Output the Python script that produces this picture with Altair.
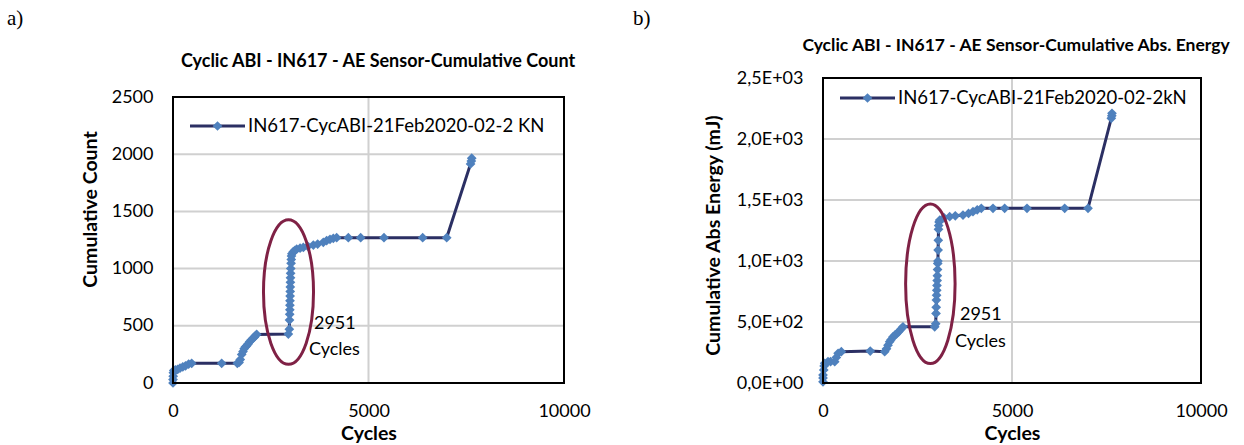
import altair as alt
import pandas as pd

# ---------------- data ----------------
count_cycles = [0, 0, 5, 10, 20, 60, 120, 180, 250, 320, 400, 478, 1245, 1645, 1690, 1720, 1757,
                1790, 1820, 1850, 1885, 1920, 1960, 2000, 2040, 2080, 2110, 2140, 2950, 2975, 2980,
                2985, 2988, 2990, 2992, 2995, 2998, 3000, 3003, 3005, 3008, 3012, 3020, 3025, 3030,
                3040, 3077, 3120, 3164, 3250, 3333, 3450, 3589, 3700, 3844, 3930, 4015, 4100, 4186,
                4484, 4800, 5396, 6386, 7000, 7610, 7630, 7640]
count_values = [0, 30, 60, 90, 110, 115, 120, 131, 140, 150, 165, 172, 172, 172, 180, 205, 250,
                275, 300, 315, 325, 340, 360, 375, 390, 400, 415, 425, 428, 470, 550,
                600, 640, 680, 720, 760, 800, 840, 880, 920, 959, 1000, 1046, 1080, 1110,
                1130, 1148, 1160, 1170, 1178, 1185, 1195, 1206, 1215, 1230, 1245, 1256, 1265, 1270,
                1270, 1270, 1270, 1270, 1270, 1915, 1940, 1965]

energy_cycles = [0, 0, 0, 20, 30, 45, 132, 200, 310, 352, 400, 485, 1250, 1632, 1680, 1720, 1764,
                 1800, 1850, 1900, 1940, 2000, 2060, 2116, 2955, 2981, 2990, 2995, 3000, 3005, 3010,
                 3015, 3020, 3025, 3030, 3035, 3040, 3045, 3050, 3055, 3060, 3070, 3090, 3200, 3351,
                 3500, 3704, 3850, 3968, 4080, 4188, 4497, 4806, 5397, 6394, 7011, 7627, 7640, 7645]
energy_values = [10, 40, 66, 107, 140, 161, 175, 175, 175, 210, 243, 257, 262, 257, 280, 310, 339,
                 355, 378, 392, 400, 420, 440, 461, 461, 485, 570, 620, 680, 720, 760,
                 800, 840, 880, 930, 980, 1000, 1090, 1170, 1260, 1290, 1320, 1336, 1355, 1363,
                 1370, 1377, 1390, 1404, 1420, 1432, 1432, 1432, 1432, 1432, 1432, 2170, 2190, 2211]

x_ticks = [0, 5000, 10000]
count_ticks = [0, 500, 1000, 1500, 2000, 2500]
energy_ticks = [0, 500, 1000, 1500, 2000, 2500]
energy_tick_labels = ["0,0E+00", "5,0E+02", "1,0E+03", "1,5E+03", "2,0E+03", "2,5E+03"]

count_title = "Cyclic ABI - IN617 - AE Sensor-Cumulative Count"
energy_title = "Cyclic ABI - IN617 - AE Sensor-Cumulative Abs. Energy"
count_legend = "IN617-CycABI-21Feb2020-02-2 KN"
energy_legend = "IN617-CycABI-21Feb2020-02-2kN"
count_ytitle = "Cumulative Count"
energy_ytitle = "Cumulative Abs Energy  (mJ)"

# annotation (ellipse centre + text anchors, in data units)
count_ellipse = {"cycles": [2954], "value": [795]}
energy_ellipse = {"cycles": [2840], "value": [813]}
count_notes = {"cycles": [3606, 3478], "value": [516, 288], "text": ["2951", "Cycles"]}
energy_notes = {"cycles": [3624, 3492], "value": [557, 336], "text": ["2951", "Cycles"]}

FONT = "Lato"
LINE = "#2B2F63"
MARK = "#4F81BD"
ELL = "#7F2145"
GRID = "#D0D0D0"
H = 305  # common panel height (plot bottoms aligned)


def ellipse_path(a):
    k = 0.5523
    return (f"M 0 -1 C {k*a:.4f} -1 {a:.4f} {-k:.4f} {a:.4f} 0 "
            f"C {a:.4f} {k:.4f} {k*a:.4f} 1 0 1 "
            f"C {-k*a:.4f} 1 {-a:.4f} {k:.4f} {-a:.4f} 0 "
            f"C {-a:.4f} {-k:.4f} {-k*a:.4f} -1 0 -1 Z")


def panel(cycles, values, yticks, ylabels, title, legend, ytitle, ell, notes, ell_shape,
          w, top, ytitle_x, ytitle_y, tag, tag_x, leg_y, title_y, title_x, title_size):
    df = pd.DataFrame({"cycles": cycles, "value": values, "i": list(range(len(cycles)))})
    if ylabels is None:
        label_expr = "format(datum.value, 'd')"
    else:
        parts = [f"datum.value == {v} ? '{l}'" for v, l in zip(yticks, ylabels)]
        label_expr = " : ".join(parts) + " : ''"
    xs = alt.Scale(domain=[0, 10000], nice=False)
    ys = alt.Scale(domain=[0, 2500], nice=False, range=[H, top])
    xaxis = alt.Axis(values=x_ticks, title="Cycles", format="d", grid=False,
                     domain=False, ticks=False, tickSize=0, labelPadding=19,
                     labelFlush=False, labelFont=FONT, labelFontSize=18,
                     labelColor="black", titleFont=FONT, titleFontSize=19.5,
                     titleFontWeight="bold", titleColor="black", titleBaseline="middle",
                     titleY=50)
    yaxis = alt.Axis(values=yticks, title=ytitle, labelExpr=label_expr, grid=False,
                     domain=False, ticks=False, tickSize=0,
                     labelPadding=20, labelFlush=False, labelFont=FONT, labelFontSize=18,
                     labelColor="black", titleFont=FONT, titleFontSize=19.5,
                     titleFontWeight="bold", titleColor="black", titleBaseline="middle",
                     titleAlign="center", titleX=ytitle_x, titleY=ytitle_y)
    x = alt.X("cycles:Q", scale=xs, axis=xaxis)
    y = alt.Y("value:Q", scale=ys, axis=yaxis)
    # grid lines drawn from the tick lists through the same scales
    hgrid = alt.Chart(pd.DataFrame({"value": yticks[1:-1]})).mark_rule(
        color=GRID, strokeWidth=2).encode(y=y, x=alt.value(0), x2=alt.value(w))
    vgrid = alt.Chart(pd.DataFrame({"cycles": x_ticks[1:-1]})).mark_rule(
        color=GRID, strokeWidth=2).encode(x=x, y=alt.value(top), y2=alt.value(H))
    line = alt.Chart(df).mark_line(color=LINE, strokeWidth=3).encode(x=x, y=y, order="i:Q")
    pts = alt.Chart(df).mark_point(shape="diamond", filled=True, color=MARK, size=95,
                                   opacity=1).encode(x=x, y=y)
    edf = pd.DataFrame(ell)
    ellipse = alt.Chart(edf).mark_point(shape=ell_shape[0], size=ell_shape[1], filled=False,
                                        stroke=ELL, strokeWidth=3, opacity=1).encode(x=x, y=y)
    ndf = pd.DataFrame(notes)
    note = alt.Chart(ndf).mark_text(font=FONT, fontSize=18, align="left", baseline="middle",
                                    color="black").encode(x=x, y=y, text="text:N")
    ldf = pd.DataFrame({"label": [legend], "tag": [tag], "title": [title]})
    frame = alt.Chart(ldf).mark_rect(filled=False, stroke="black", strokeWidth=2).encode(
        x=alt.value(0), x2=alt.value(w), y=alt.value(top), y2=alt.value(H))
    leg_rule = alt.Chart(ldf).mark_rule(color=LINE, strokeWidth=3).encode(
        x=alt.value(17), x2=alt.value(72), y=alt.value(leg_y))
    leg_pt = alt.Chart(ldf).mark_point(shape="diamond", filled=True, color=MARK, size=95,
                                       opacity=1).encode(x=alt.value(44.5), y=alt.value(leg_y))
    leg_txt = alt.Chart(ldf).mark_text(font=FONT, fontSize=18.5, align="left", baseline="middle",
                                       color="black").encode(x=alt.value(75), y=alt.value(leg_y),
                                                             text="label:N")
    tag_txt = alt.Chart(ldf).mark_text(font="Liberation Serif", fontSize=21, align="left",
                                       baseline="top", color="black").encode(
        x=alt.value(tag_x), y=alt.value(-70), text="tag:N")
    title_txt = alt.Chart(ldf).mark_text(font=FONT, fontSize=title_size, fontWeight="bold",
                                         align="center", baseline="middle", color="black").encode(
        x=alt.value(title_x), y=alt.value(title_y), text="title:N")
    return alt.layer(hgrid, vgrid, line, pts, ellipse, note, frame, leg_rule, leg_pt, leg_txt,
                     tag_txt, title_txt).properties(width=w, height=H)


left = panel(count_cycles, count_values, count_ticks, None, count_title, count_legend,
             count_ytitle, count_ellipse, count_notes, (ellipse_path(0.346), 20909),
             391, 19, -83, 131, "a)", -166, 48, -16, 205, 18)
right = panel(energy_cycles, energy_values, energy_ticks, energy_tick_labels, energy_title,
              energy_legend, energy_ytitle, energy_ellipse, energy_notes,
              (ellipse_path(0.31), 25472),
              378, 0, -110, 157, "b)", -190, 20, -32, 193, 17.5)

chart = alt.hconcat(left, right, spacing=42).properties(
    padding={"left": 7, "top": 8, "right": 0, "bottom": 0},
    background="white"
).configure_view(strokeOpacity=0)

chart.save("out.html", embed_options={"renderer": "svg", "actions": False})
